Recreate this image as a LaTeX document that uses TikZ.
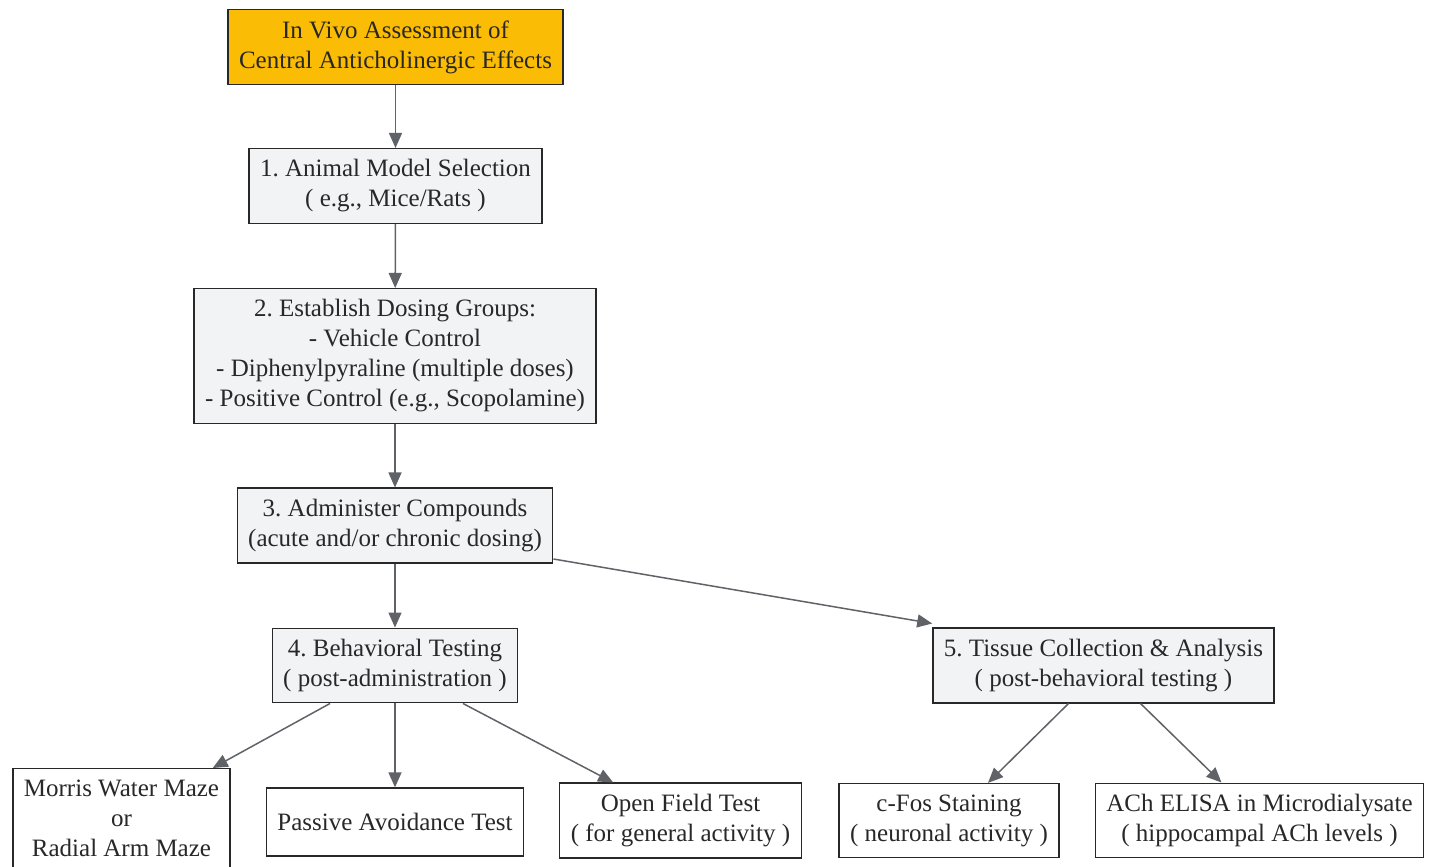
\documentclass[tikz,border=0pt]{standalone}
\usepackage{fontspec}
\setmainfont{Liberation Serif}
\frenchspacing
\usetikzlibrary{arrows.meta, positioning}

\definecolor{headfill}{RGB}{251,188,5}
\definecolor{stepfill}{RGB}{241,243,245}
\definecolor{edgegray}{RGB}{95,99,104}
\definecolor{textdark}{RGB}{40,40,40}

\tikzset{
  box/.style={draw=textdark, line width=1.3pt, text=textdark, align=center,
    inner xsep=11pt, inner ysep=11pt, font=\fontsize{25}{30}\selectfont},
  headbox/.style={box, fill=headfill},
  stepbox/.style={box, fill=stepfill},
  leafbox/.style={box, fill=white},
  flow/.style={draw=edgegray, line width=1.5pt, -{Triangle[length=15pt,width=13pt]}}
}

\begin{document}
\begin{tikzpicture}[x=1pt,y=-1pt]
\useasboundingbox (0,0) rectangle (1433,867);

\node[headbox] (T0) at (395.5,47) {In Vivo Assessment of\\Central Anticholinergic Effects};
\node[stepbox] (T1) at (395.5,186) {1. Animal Model Selection\\( e.g., Mice/Rats )};
\node[stepbox] (T2) at (395,356) {2. Establish Dosing Groups:\\- Vehicle Control\\- Diphenylpyraline (multiple doses)\\- Positive Control (e.g., Scopolamine)};
\node[stepbox] (T3) at (395,525.5) {3. Administer Compounds\\(acute and/or chronic dosing)};
\node[stepbox] (T4) at (395,665.5) {4. Behavioral Testing\\( post-administration )};
\node[stepbox] (T5) at (1103.5,665.5) {5. Tissue Collection \& Analysis\\( post-behavioral testing )};

\node[leafbox, anchor=north] (B1) at (121.5,768) {Morris Water Maze\\or\\Radial Arm Maze};
\node[leafbox, minimum height=68pt] (B2) at (395,822) {Passive Avoidance Test};
\node[leafbox] (B3) at (680.5,820.5) {Open Field Test\\( for general activity )};
\node[leafbox] (B4) at (949,820.5) {c-Fos Staining\\( neuronal activity )};
\node[leafbox] (B5) at (1259.5,820.5) {ACh ELISA in Microdialysate\\( hippocampal ACh levels )};

\draw[flow] (T0) -- (T1);
\draw[flow] (T1) -- (T2);
\draw[flow] (T2) -- (T3);
\draw[flow] (T3) -- (T4);
\draw[flow] (T3.east |- 0,559) -- ([yshift=4pt]T5.north west);

%\draw[flow] (T4) -- (B1);
\draw[flow] ([xshift=-65pt]T4.south) -- ([xshift=-18pt]B1.north east);
\draw[flow] (T4) -- (B2);
\draw[flow] ([xshift=68pt]T4.south) -- ([xshift=54pt]B3.north west);
\draw[flow] ([xshift=-35pt]T5.south) -- ([xshift=39pt]B4.north);
\draw[flow] ([xshift=37pt]T5.south) -- ([xshift=-38pt]B5.north);

\end{tikzpicture}
\end{document}
